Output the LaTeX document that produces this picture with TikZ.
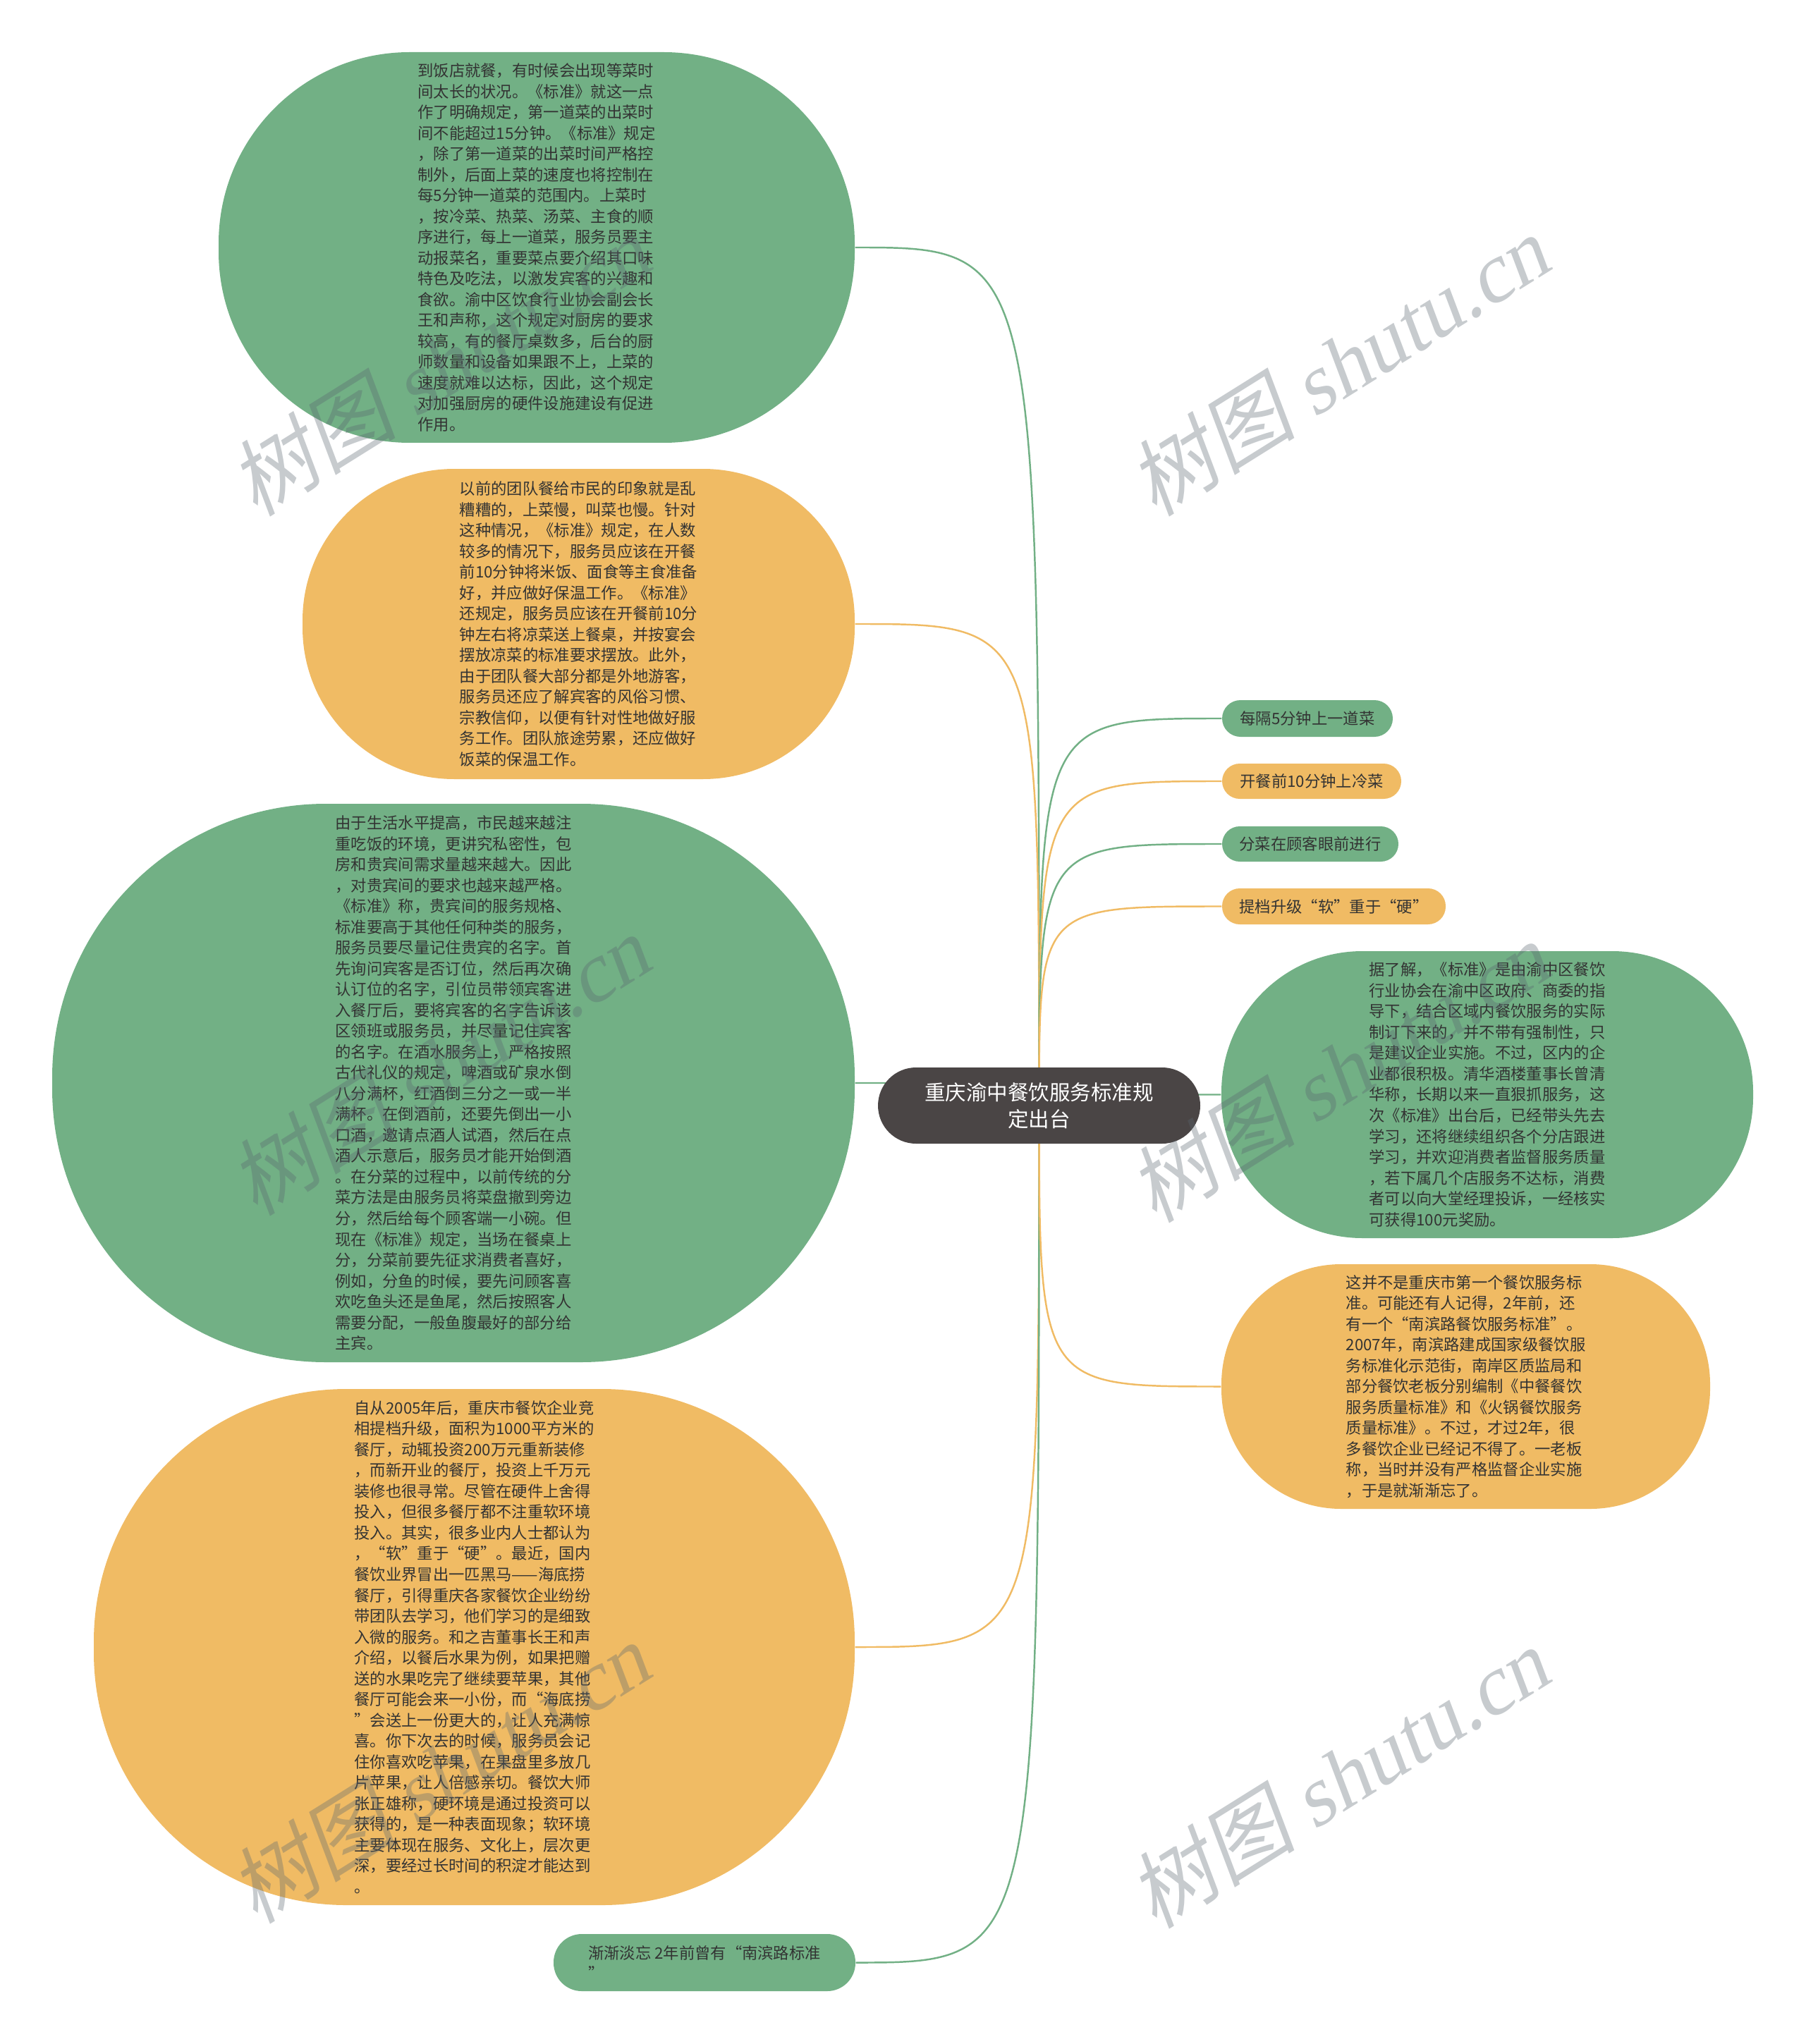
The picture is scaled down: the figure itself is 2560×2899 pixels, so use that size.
\documentclass[tikz,border=0pt]{standalone}
\usepackage{fontspec}
\setmainfont{Noto Sans CJK SC}
\newfontfamily\wmserif{Liberation Serif}
\usetikzlibrary{backgrounds}

\definecolor{leafgreen}{HTML}{72B085}
\definecolor{leaforange}{HTML}{F0BB64}
\definecolor{rootgray}{HTML}{4A4545}
\definecolor{inkgray}{HTML}{333333}
\definecolor{wmgray}{HTML}{5A6670}

\begin{document}
\begin{tikzpicture}[x=0.1mm, y=-0.1mm,
    bubble/.style n args={3}{minimum width=#1mm, minimum height=#2mm, rounded corners=#3mm,
      inner sep=0pt, align=left, text=inkgray, font=\fontsize{6.35}{8.4}\selectfont},
    gbox/.style={fill=leafgreen},
    obox/.style={fill=leaforange},
    rootbox/.style={fill=rootgray, rounded corners=5.4mm, minimum width=45.7mm, minimum height=10.8mm,
      inner sep=0pt, align=center, text=white, font=\fontsize{8.4}{10.8}\selectfont},
    gline/.style={draw=leafgreen, line width=0.7pt},
    oline/.style={draw=leaforange, line width=0.7pt},
    wmark/.style={text=wmgray, opacity=0.34, inner sep=0pt, font=\fontsize{34}{34}\selectfont}]
    \useasboundingbox (0,0) rectangle (2560,2899);

    \node[rootbox] (root) at (1473.5,1568) {重庆渝中餐饮服务标准规\\定出台};

    \node[bubble={90.2}{55.4}{27.1}, gbox] (wait) at (761,351) {到饭店就餐，有时候会出现等菜时\\间太长的状况。《标准》就这一点\\作了明确规定，第一道菜的出菜时\\间不能超过15分钟。《标准》规定\\，除了第一道菜的出菜时间严格控\\制外，后面上菜的速度也将控制在\\每5分钟一道菜的范围内。上菜时\\，按冷菜、热菜、汤菜、主食的顺\\序进行，每上一道菜，服务员要主\\动报菜名，重要菜点要介绍其口味\\特色及吃法，以激发宾客的兴趣和\\食欲。渝中区饮食行业协会副会长\\王和声称，这个规定对厨房的要求\\较高，有的餐厅桌数多，后台的厨\\师数量和设备如果跟不上，上菜的\\速度就难以达标，因此，这个规定\\对加强厨房的硬件设施建设有促进\\作用。};
    \node[bubble={78.3}{44.0}{21.5}, obox] (group) at (820.5,885) {以前的团队餐给市民的印象就是乱\\糟糟的，上菜慢，叫菜也慢。针对\\这种情况，《标准》规定，在人数\\较多的情况下，服务员应该在开餐\\前10分钟将米饭、面食等主食准备\\好，并应做好保温工作。《标准》\\还规定，服务员应该在开餐前10分\\钟左右将凉菜送上餐桌，并按宴会\\摆放凉菜的标准要求摆放。此外，\\由于团队餐大部分都是外地游客，\\服务员还应了解宾客的风俗习惯、\\宗教信仰，以便有针对性地做好服\\务工作。团队旅途劳累，还应做好\\饭菜的保温工作。};
    \node[bubble={113.8}{79.2}{38.8}, gbox] (vip) at (643,1536) {由于生活水平提高，市民越来越注\\重吃饭的环境，更讲究私密性，包\\房和贵宾间需求量越来越大。因此\\，对贵宾间的要求也越来越严格。\\《标准》称，贵宾间的服务规格、\\标准要高于其他任何种类的服务，\\服务员要尽量记住贵宾的名字。首\\先询问宾客是否订位，然后再次确\\认订位的名字，引位员带领宾客进\\入餐厅后，要将宾客的名字告诉该\\区领班或服务员，并尽量记住宾客\\的名字。在酒水服务上，严格按照\\古代礼仪的规定，啤酒或矿泉水倒\\八分满杯，红酒倒三分之一或一半\\满杯。在倒酒前，还要先倒出一小\\口酒，邀请点酒人试酒，然后在点\\酒人示意后，服务员才能开始倒酒\\。在分菜的过程中，以前传统的分\\菜方法是由服务员将菜盘撤到旁边\\分，然后给每个顾客端一小碗。但\\现在《标准》规定，当场在餐桌上\\分，分菜前要先征求消费者喜好，\\例如，分鱼的时候，要先问顾客喜\\欢吃鱼头还是鱼尾，然后按照客人\\需要分配，一般鱼腹最好的部分给\\主宾。};
    \node[bubble={107.9}{73.2}{35.8}, obox] (soft) at (672.5,2336) {自从2005年后，重庆市餐饮企业竞\\相提档升级，面积为1000平方米的\\餐厅，动辄投资200万元重新装修\\，而新开业的餐厅，投资上千万元\\装修也很寻常。尽管在硬件上舍得\\投入，但很多餐厅都不注重软环境\\投入。其实，很多业内人士都认为\\，“软”重于“硬”。最近，国内\\餐饮业界冒出一匹黑马——海底捞\\餐厅，引得重庆各家餐饮企业纷纷\\带团队去学习，他们学习的是细致\\入微的服务。和之吉董事长王和声\\介绍，以餐后水果为例，如果把赠\\送的水果吃完了继续要苹果，其他\\餐厅可能会来一小份，而“海底捞\\”会送上一份更大的，让人充满惊\\喜。你下次去的时候，服务员会记\\住你喜欢吃苹果，在果盘里多放几\\片苹果，让人倍感亲切。餐饮大师\\张正雄称，硬环境是通过投资可以\\获得的，是一种表面现象；软环境\\主要体现在服务、文化上，层次更\\深，要经过长时间的积淀才能达到\\。};
    \node[bubble={42.8}{8.1}{4.0}, gbox] (fade) at (999,2783.5) {渐渐淡忘 2年前曾有“南滨路标准\\”};

    \node[bubble={24.2}{5.2}{2.6}, gbox] (every5) at (1854,1019) {每隔5分钟上一道菜};
    \node[bubble={25.4}{5.0}{2.5}, obox] (cold) at (1860,1108) {开餐前10分钟上冷菜};
    \node[bubble={25.0}{5.0}{2.5}, gbox] (split) at (1858,1197) {分菜在顾客眼前进行};
    \node[bubble={31.7}{5.1}{2.5}, obox] (upgrade) at (1891.5,1285.5) {提档升级“软”重于“硬”};
    \node[bubble={75.4}{40.7}{20.0}, gbox] (origin) at (2109,1552.5) {据了解，《标准》是由渝中区餐饮\\行业协会在渝中区政府、商委的指\\导下，结合区域内餐饮服务的实际\\制订下来的，并不带有强制性，只\\是建议企业实施。不过，区内的企\\业都很积极。清华酒楼董事长曾清\\华称，长期以来一直狠抓服务，这\\次《标准》出台后，已经带头先去\\学习，还将继续组织各个分店跟进\\学习，并欢迎消费者监督服务质量\\，若下属几个店服务不达标，消费\\者可以向大堂经理投诉，一经核实\\可获得100元奖励。};
    \node[bubble={69.3}{34.7}{17.0}, obox] (nanbin) at (2078.5,1966.5) {这并不是重庆市第一个餐饮服务标\\准。可能还有人记得，2年前，还\\有一个“南滨路餐饮服务标准”。\\2007年，南滨路建成国家级餐饮服\\务标准化示范街，南岸区质监局和\\部分餐饮老板分别编制《中餐餐饮\\服务质量标准》和《火锅餐饮服务\\质量标准》。不过，才过2年，很\\多餐饮企业已经记不得了。一老板\\称，当时并没有严格监督企业实施\\，于是就渐渐忘了。};

    \begin{scope}[on background layer]
        \draw[gline] (root.center) .. controls (root.center |- wait.east) .. (wait.east);
        \draw[oline] (root.center) .. controls (root.center |- group.east) .. (group.east);
        \draw[gline] (root.center) .. controls (root.center |- vip.east) .. (vip.east);
        \draw[oline] (root.center) .. controls (root.center |- soft.east) .. (soft.east);
        \draw[gline] (root.center) .. controls (root.center |- fade.east) .. (fade.east);
        \draw[gline] (root.center) .. controls (root.center |- every5.west) .. (every5.west);
        \draw[oline] (root.center) .. controls (root.center |- cold.west) .. (cold.west);
        \draw[gline] (root.center) .. controls (root.center |- split.west) .. (split.west);
        \draw[oline] (root.center) .. controls (root.center |- upgrade.west) .. (upgrade.west);
        \draw[gline] (root.center) .. controls (root.center |- origin.west) .. (origin.west);
        \draw[oline] (root.center) .. controls (root.center |- nanbin.west) .. (nanbin.west);
    \end{scope}

    \foreach \wx/\wy [count=\k] in {630/514, 1905/514, 630/1506, 1905/1516, 630/2510, 1905/2517} {
        \begin{scope}[shift={(\wx,\wy)}, rotate=32, xslant=0.2]
            \node[wmark, transform shape] (wm\k) at (0,0) {树图 {\wmserif shutu.cn}};
        \end{scope}
    }
\end{tikzpicture}
\end{document}
